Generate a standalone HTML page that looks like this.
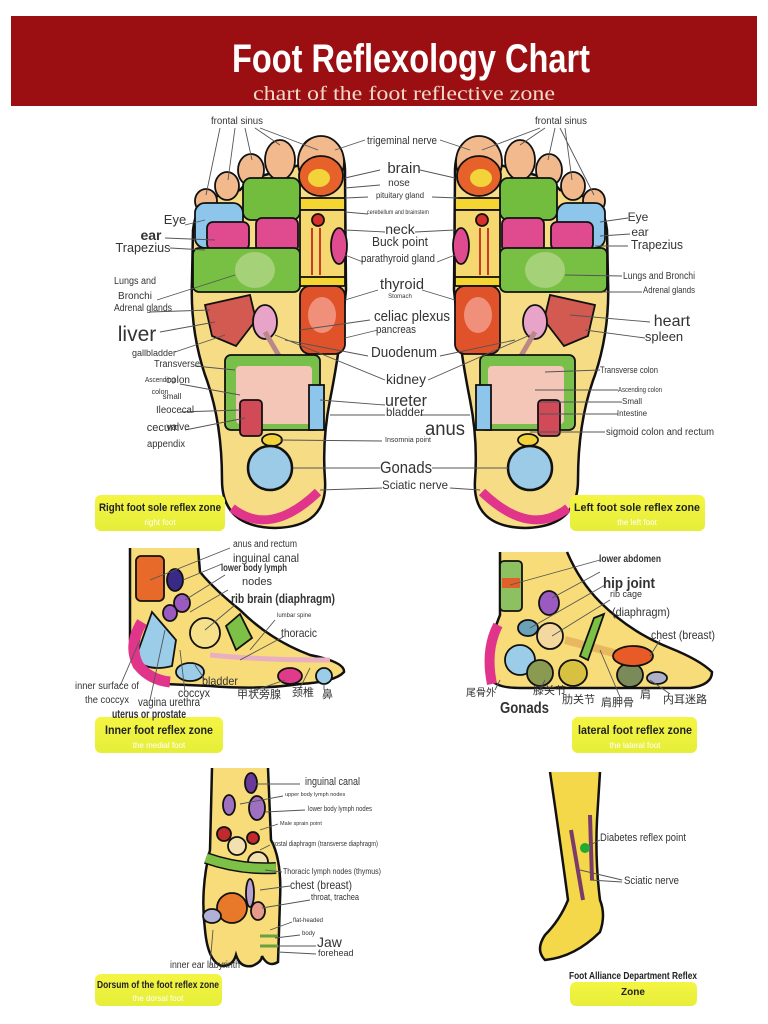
<!DOCTYPE html>
<html><head><meta charset="utf-8"><style>
html,body{margin:0;padding:0;background:#fff;}
svg{display:block;}
text{font-family:"Liberation Sans Narrow","Liberation Sans","Noto Sans CJK SC",sans-serif;fill:#333;}
.b{font-weight:bold;}
.l{stroke:#555;stroke-width:0.9;fill:none;}
.o{stroke:#111;stroke-width:2.5;}
.t{stroke:#111;stroke-width:1.8;}
</style></head><body>
<svg width="768" height="1024" viewBox="0 0 768 1024" xmlns="http://www.w3.org/2000/svg">
<defs>
<linearGradient id="yl" x1="0" y1="0" x2="0" y2="1">
<stop offset="0" stop-color="#f4f542"/><stop offset="1" stop-color="#e6ee3a"/>
</linearGradient>
<g id="sole">
<path class="o" fill="#f7dc86" d="M300,165 Q298,138 320,137 Q346,140 345,175 L346,290 Q340,350 330,400 Q322,440 325,480 Q328,527 275,528 Q222,527 222,480 Q222,420 205,375 Q190,330 192,280 L193,230 Q196,205 210,198 L240,190 Q250,178 265,175 Z"/>
<ellipse class="t" cx="280" cy="160" rx="15" ry="20" fill="#f2b98d"/>
<ellipse class="t" cx="251" cy="170" rx="13" ry="16" fill="#f2b98d"/>
<ellipse class="t" cx="227" cy="186" rx="12" ry="14" fill="#f2b98d"/>
<ellipse class="t" cx="206" cy="201" rx="11" ry="12" fill="#f2b98d"/>
<ellipse class="t" cx="321" cy="162" rx="23" ry="26" fill="#f2b98d"/>
<ellipse class="t" cx="321" cy="176" rx="22" ry="20" fill="#e6622a"/>
<ellipse cx="319" cy="178" rx="11" ry="9" fill="#f3d33a"/>
<rect class="t" x="243" y="178" width="57" height="42" rx="8" fill="#72bd3e"/>
<rect class="t" x="195" y="203" width="48" height="45" rx="10" fill="#8ec5ea"/>
<rect class="t" x="207" y="222" width="42" height="28" rx="6" fill="#e04a8e"/>
<rect class="t" x="256" y="218" width="42" height="34" rx="6" fill="#e04a8e"/>
<rect class="t" x="193" y="248" width="107" height="44" rx="6" fill="#78c043"/>
<ellipse cx="255" cy="270" rx="20" ry="18" fill="#b8d890" opacity=".7"/>
<rect class="t" x="300" y="198" width="45" height="12" fill="#f5d532"/>
<rect class="t" x="300" y="210" width="45" height="70" fill="#f6d870"/>
<circle cx="318" cy="220" r="6" fill="#d8302a" class="t"/>
<path d="M312,228 L312,275 M320,228 L320,275" stroke="#c83a2a" stroke-width="2"/>
<ellipse class="t" cx="339" cy="246" rx="8" ry="18" fill="#e04a8e"/>
<rect class="t" x="300" y="277" width="45" height="9" fill="#f5d532"/>
<rect class="t" x="300" y="286" width="45" height="68" rx="10" fill="#e0522a"/>
<ellipse cx="322" cy="315" rx="14" ry="18" fill="#f0907a"/>
<path class="t" fill="#d25a50" d="M205,305 L250,295 L256,320 L236,346 L212,336 Z"/>
<ellipse class="t" cx="265" cy="322" rx="12" ry="17" fill="#e7a3c8"/>
<path d="M265,332 L305,400" stroke="#b88" stroke-width="5"/>
<rect class="t" x="225" y="355" width="95" height="75" rx="6" fill="#79c04a"/>
<rect x="236" y="366" width="76" height="58" rx="4" fill="#f3c6b8"/>
<rect class="t" x="309" y="385" width="15" height="45" fill="#8ec5ea"/>
<rect class="t" x="240" y="400" width="22" height="36" rx="4" fill="#d04a58"/>
<ellipse class="t" cx="272" cy="440" rx="10" ry="6" fill="#f3d33a"/>
<circle class="o" cx="270" cy="468" r="22" fill="#9ccbe8"/>
<path d="M232,508 Q270,538 318,492" stroke="#e0358a" stroke-width="9" fill="none"/>
</g>
</defs>

<rect x="11" y="16" width="746" height="90" fill="#9b0f13"/>
<text x="411" y="72" text-anchor="middle" font-size="40" class="b" style="fill:#fff" textLength="358" lengthAdjust="spacingAndGlyphs">Foot Reflexology Chart</text>
<text x="404" y="100" text-anchor="middle" font-size="20" style="fill:#f2d9c8;font-family:'Liberation Serif',serif" textLength="302" lengthAdjust="spacingAndGlyphs">chart of the foot reflective zone</text>

<use href="#sole"/>
<use href="#sole" transform="translate(800,0) scale(-1,1)"/>

<g class="l">
<path d="M220,128 L206,195 M235,128 L228,180 M245,128 L252,160 M255,128 L280,145 M260,128 L318,150"/>
<path d="M560,128 L594,195 M565,128 L572,180 M555,128 L548,160 M545,128 L520,145 M540,128 L482,150"/>
<path d="M185,225 L205,220 M165,238 L215,240 M170,248 L205,250 M157,300 L235,275 M150,312 L210,310 M160,332 L215,322 M175,352 L225,335 M195,366 L235,370 M180,384 L240,395 M180,412 L240,410 M185,430 L245,418"/>
<path d="M365,140 L335,150 M440,140 L470,150 M345,178 L380,170 M420,170 L455,178 M345,188 L380,185 M345,198 L368,197 M432,197 L458,198 M345,212 L368,214 M345,230 L385,232 M415,232 L455,230 M345,255 L363,262 M437,262 L455,255 M345,300 L378,290 M422,290 L455,300 M300,330 L370,320 M345,338 L378,330 M285,340 L368,356 M440,356 L515,340 M275,335 L385,380 M428,380 L530,335 M320,400 L385,405 M330,415 L385,415 M420,415 L470,415 M280,440 L382,441 M293,468 L380,468 M432,468 L508,468 M320,490 L382,488 M450,488 L480,490"/>
<path d="M600,222 L628,218 M600,236 L630,234 M595,246 L628,246 M565,275 L622,276 M560,292 L642,292 M570,315 L650,322 M585,330 L645,338 M545,372 L600,370 M535,390 L618,390 M540,402 L622,402 M540,414 L618,414 M530,432 L605,432"/>
</g>

<g font-size="10">
<text x="237" y="124" text-anchor="middle" textLength="52" lengthAdjust="spacingAndGlyphs">frontal sinus</text>
<text x="561" y="124" text-anchor="middle" textLength="52" lengthAdjust="spacingAndGlyphs">frontal sinus</text>
<text x="175" y="224" text-anchor="middle" font-size="13">Eye</text>
<text x="151" y="240" text-anchor="middle" font-size="14" class="b">ear</text>
<text x="143" y="252" text-anchor="middle" font-size="13" textLength="55" lengthAdjust="spacingAndGlyphs">Trapezius</text>
<text x="135" y="284" text-anchor="middle" textLength="42" lengthAdjust="spacingAndGlyphs">Lungs and</text>
<text x="135" y="299" text-anchor="middle">Bronchi</text>
<text x="143" y="311" text-anchor="middle" textLength="58" lengthAdjust="spacingAndGlyphs">Adrenal glands</text>
<text x="137" y="341" text-anchor="middle" font-size="21">liver</text>
<text x="154" y="356" text-anchor="middle" font-size="9" textLength="44" lengthAdjust="spacingAndGlyphs">gallbladder</text>
<text x="177" y="367" text-anchor="middle" textLength="46" lengthAdjust="spacingAndGlyphs">Transverse</text>
<text x="178" y="383" text-anchor="middle">colon</text>
<text x="160" y="382" text-anchor="middle" font-size="7" textLength="30" lengthAdjust="spacingAndGlyphs">Ascending</text>
<text x="160" y="394" text-anchor="middle" font-size="7">colon</text>
<text x="172" y="399" text-anchor="middle" font-size="8">small</text>
<text x="175" y="413" text-anchor="middle" textLength="38" lengthAdjust="spacingAndGlyphs">Ileocecal</text>
<text x="163" y="431" text-anchor="middle" font-size="11">cecum</text>
<text x="178" y="430" text-anchor="middle">valve</text>
<text x="166" y="447" text-anchor="middle" textLength="38" lengthAdjust="spacingAndGlyphs">appendix</text>

<text x="402" y="144" text-anchor="middle" font-size="11" textLength="70" lengthAdjust="spacingAndGlyphs">trigeminal nerve</text>
<text x="404" y="173" text-anchor="middle" font-size="15">brain</text>
<text x="399" y="186" text-anchor="middle">nose</text>
<text x="400" y="198" text-anchor="middle" font-size="8" textLength="48" lengthAdjust="spacingAndGlyphs">pituitary gland</text>
<text x="398" y="214" text-anchor="middle" font-size="6" textLength="62" lengthAdjust="spacingAndGlyphs">cerebellum and brainstem</text>
<text x="400" y="234" text-anchor="middle" font-size="14">neck</text>
<text x="400" y="246" text-anchor="middle" font-size="13" textLength="56" lengthAdjust="spacingAndGlyphs">Buck point</text>
<text x="398" y="262" text-anchor="middle" font-size="11" textLength="74" lengthAdjust="spacingAndGlyphs">parathyroid gland</text>
<text x="402" y="289" text-anchor="middle" font-size="15" textLength="44" lengthAdjust="spacingAndGlyphs">thyroid</text>
<text x="400" y="298" text-anchor="middle" font-size="6">Stomach</text>
<text x="412" y="321" text-anchor="middle" font-size="15" textLength="76" lengthAdjust="spacingAndGlyphs">celiac plexus</text>
<text x="396" y="333" text-anchor="middle" font-size="11" textLength="40" lengthAdjust="spacingAndGlyphs">pancreas</text>
<text x="404" y="357" text-anchor="middle" font-size="15" textLength="66" lengthAdjust="spacingAndGlyphs">Duodenum</text>
<text x="406" y="384" text-anchor="middle" font-size="14" textLength="40" lengthAdjust="spacingAndGlyphs">kidney</text>
<text x="406" y="406" text-anchor="middle" font-size="17" textLength="42" lengthAdjust="spacingAndGlyphs">ureter</text>
<text x="405" y="416" text-anchor="middle" font-size="12" textLength="38" lengthAdjust="spacingAndGlyphs">bladder</text>
<text x="445" y="435" text-anchor="middle" font-size="19" textLength="40" lengthAdjust="spacingAndGlyphs">anus</text>
<text x="408" y="442" text-anchor="middle" font-size="7" textLength="46" lengthAdjust="spacingAndGlyphs">Insomnia point</text>
<text x="406" y="473" text-anchor="middle" font-size="17" textLength="52" lengthAdjust="spacingAndGlyphs">Gonads</text>
<text x="415" y="489" text-anchor="middle" font-size="12" textLength="66" lengthAdjust="spacingAndGlyphs">Sciatic nerve</text>

<text x="638" y="221" text-anchor="middle" font-size="12">Eye</text>
<text x="640" y="236" text-anchor="middle" font-size="12">ear</text>
<text x="657" y="249" text-anchor="middle" font-size="13" textLength="52" lengthAdjust="spacingAndGlyphs">Trapezius</text>
<text x="659" y="279" text-anchor="middle" textLength="72" lengthAdjust="spacingAndGlyphs">Lungs and Bronchi</text>
<text x="669" y="293" text-anchor="middle" font-size="9" textLength="52" lengthAdjust="spacingAndGlyphs">Adrenal glands</text>
<text x="672" y="326" text-anchor="middle" font-size="16">heart</text>
<text x="664" y="341" text-anchor="middle" font-size="13">spleen</text>
<text x="629" y="373" text-anchor="middle" font-size="9" textLength="58" lengthAdjust="spacingAndGlyphs">Transverse colon</text>
<text x="640" y="392" text-anchor="middle" font-size="7" textLength="44" lengthAdjust="spacingAndGlyphs">Ascending colon</text>
<text x="632" y="404" text-anchor="middle" font-size="8">Small</text>
<text x="632" y="416" text-anchor="middle" font-size="8">Intestine</text>
<text x="660" y="435" text-anchor="middle" textLength="108" lengthAdjust="spacingAndGlyphs">sigmoid colon and rectum</text>
</g>

<g>
<rect x="95" y="495" width="130" height="36" rx="6" fill="url(#yl)"/>
<text x="160" y="511" text-anchor="middle" font-size="11" class="b" style="fill:#222" textLength="122" lengthAdjust="spacingAndGlyphs">Right foot sole reflex zone</text>
<text x="160" y="525" text-anchor="middle" font-size="8" style="fill:#fff">right foot</text>
<rect x="570" y="495" width="135" height="36" rx="6" fill="url(#yl)"/>
<text x="637" y="511" text-anchor="middle" font-size="11" class="b" style="fill:#222" textLength="126" lengthAdjust="spacingAndGlyphs">Left foot sole reflex zone</text>
<text x="637" y="525" text-anchor="middle" font-size="8" style="fill:#fff">the left foot</text>
<rect x="95" y="717" width="128" height="36" rx="6" fill="url(#yl)"/>
<text x="159" y="734" text-anchor="middle" font-size="12" class="b" style="fill:#222" textLength="108" lengthAdjust="spacingAndGlyphs">Inner foot reflex zone</text>
<text x="159" y="748" text-anchor="middle" font-size="8" style="fill:#fff">the medial foot</text>
<rect x="572" y="717" width="125" height="36" rx="6" fill="url(#yl)"/>
<text x="635" y="734" text-anchor="middle" font-size="12" class="b" style="fill:#222" textLength="114" lengthAdjust="spacingAndGlyphs">lateral foot reflex zone</text>
<text x="635" y="748" text-anchor="middle" font-size="8" style="fill:#fff">the lateral foot</text>
<rect x="95" y="974" width="127" height="32" rx="6" fill="url(#yl)"/>
<text x="158" y="988" text-anchor="middle" font-size="10.5" class="b" style="fill:#222" textLength="122" lengthAdjust="spacingAndGlyphs">Dorsum of the foot reflex zone</text>
<text x="158" y="1001" text-anchor="middle" font-size="8" style="fill:#fff">the dorsal foot</text>
<rect x="570" y="982" width="127" height="24" rx="6" fill="url(#yl)"/>
<text x="633" y="979" text-anchor="middle" font-size="10" class="b" style="fill:#222" textLength="128" lengthAdjust="spacingAndGlyphs">Foot Alliance Department Reflex</text>
<text x="633" y="995" text-anchor="middle" font-size="10" class="b" style="fill:#222">Zone</text>
</g>

<path class="o" fill="#f8dc7a" d="M130,548 L130,640 Q135,680 165,684 L210,686 Q260,690 300,684 Q335,682 344,672 Q345,662 310,655 Q270,640 240,610 Q215,590 200,572 L198,548"/>
<rect class="t" x="136" y="556" width="28" height="45" rx="5" fill="#e86a2a"/>
<ellipse class="t" cx="175" cy="580" rx="8" ry="11" fill="#3a2a88"/>
<ellipse class="t" cx="182" cy="603" rx="8" ry="9" fill="#9a5ac0"/>
<ellipse class="t" cx="170" cy="613" rx="7" ry="8" fill="#9a5ac0"/>
<path class="t" fill="#9bcde8" d="M152,612 L135,660 Q150,672 172,666 L176,640 Z"/>
<path d="M142,622 Q128,645 138,665 Q150,680 170,682" stroke="#e0358a" stroke-width="11" fill="none"/>
<circle class="t" cx="205" cy="633" r="15" fill="#f6e08a"/>
<path class="t" fill="#7cc046" d="M226,626 L240,614 L252,638 L236,650 Z"/>
<ellipse class="t" cx="190" cy="672" rx="14" ry="9" fill="#9bcde8"/>
<ellipse class="t" cx="290" cy="676" rx="12" ry="8" fill="#e03a8a"/>
<circle class="t" cx="324" cy="676" r="8" fill="#9bcde8"/>
<path d="M210,655 Q260,660 330,660" stroke="#e8b0c0" stroke-width="5" fill="none"/>
<g class="l"><path d="M150,580 L230,548 M183,580 L222,564 M185,600 L225,575 M190,612 L228,590 M205,630 L235,605 M250,650 L275,620 M240,660 L283,637 M195,665 L205,680 M140,640 L120,686 M165,630 L150,700 M180,650 L185,692 M285,680 L250,692 M310,668 L300,688 M324,684 L324,690"/></g>
<g>
<text x="233" y="547" font-size="10" textLength="64" lengthAdjust="spacingAndGlyphs">anus and rectum</text>
<text x="233" y="562" font-size="12" textLength="66" lengthAdjust="spacingAndGlyphs">inguinal canal</text>
<text x="221" y="571" font-size="10" class="b" textLength="66" lengthAdjust="spacingAndGlyphs">lower body lymph</text>
<text x="242" y="585" font-size="11">nodes</text>
<text x="231" y="603" font-size="13" class="b" textLength="104" lengthAdjust="spacingAndGlyphs">rib brain (diaphragm)</text>
<text x="277" y="617" font-size="6">lumbar spine</text>
<text x="281" y="637" font-size="12" textLength="36" lengthAdjust="spacingAndGlyphs">thoracic</text>
<text x="202" y="685" font-size="12" textLength="36" lengthAdjust="spacingAndGlyphs">bladder</text>
<text x="75" y="689" font-size="10" textLength="64" lengthAdjust="spacingAndGlyphs">inner surface of</text>
<text x="85" y="703" font-size="10" textLength="44" lengthAdjust="spacingAndGlyphs">the coccyx</text>
<text x="178" y="697" font-size="12" textLength="32" lengthAdjust="spacingAndGlyphs">coccyx</text>
<text x="138" y="706" font-size="12" textLength="62" lengthAdjust="spacingAndGlyphs">vagina urethra</text>
<text x="112" y="718" font-size="12" class="b" textLength="74" lengthAdjust="spacingAndGlyphs">uterus or prostate</text>
<text x="237" y="698" font-size="11">甲状旁腺</text>
<text x="292" y="696" font-size="11">颈椎</text>
<text x="322" y="698" font-size="11">鼻</text>
</g>

<path class="o" fill="#f8dc7a" d="M500,552 L500,615 Q486,650 490,678 Q495,688 520,688 L690,688 Q712,685 712,672 Q700,660 670,648 Q630,632 600,602 Q580,582 567,552"/>
<rect class="t" x="500" y="561" width="22" height="50" rx="4" fill="#8cc060"/>
<rect x="502" y="578" width="18" height="10" fill="#e0602a"/>
<ellipse class="t" cx="549" cy="603" rx="10" ry="12" fill="#9a5ac0"/>
<path d="M498,625 Q485,650 492,684" stroke="#e0358a" stroke-width="10" fill="none"/>
<circle class="t" cx="520" cy="660" r="15" fill="#9bcde8"/>
<ellipse class="t" cx="528" cy="628" rx="10" ry="8" fill="#6aa0b8"/>
<circle class="t" cx="550" cy="636" r="13" fill="#f3d8a0"/>
<path d="M565,640 L640,660" stroke="#e8b860" stroke-width="8"/>
<path class="t" fill="#7cc046" d="M594,618 L604,614 L588,660 L580,656 Z"/>
<ellipse class="t" cx="540" cy="673" rx="13" ry="13" fill="#8a9a50"/>
<ellipse class="t" cx="573" cy="673" rx="14" ry="13" fill="#d8c040"/>
<ellipse class="t" cx="630" cy="675" rx="13" ry="12" fill="#7a8a58"/>
<ellipse class="t" cx="633" cy="656" rx="20" ry="10" fill="#e85a28"/>
<ellipse class="t" cx="657" cy="678" rx="10" ry="6" fill="#b0b0c8"/>
<g class="l"><path d="M510,585 L600,560 M552,598 L600,572 M530,628 L605,585 M552,636 L610,600 M650,656 L660,640 M500,680 L495,690 M545,680 L540,690 M600,650 L620,697 M650,680 L670,694"/></g>
<g>
<text x="599" y="562" font-size="10" class="b" textLength="62" lengthAdjust="spacingAndGlyphs">lower abdomen</text>
<text x="603" y="588" font-size="15" class="b" textLength="52" lengthAdjust="spacingAndGlyphs">hip joint</text>
<text x="610" y="597" font-size="9">rib cage</text>
<text x="612" y="616" font-size="12" textLength="58" lengthAdjust="spacingAndGlyphs">(diaphragm)</text>
<text x="651" y="639" font-size="12" textLength="64" lengthAdjust="spacingAndGlyphs">chest (breast)</text>
<text x="466" y="696" font-size="10">尾骨外</text>
<text x="533" y="694" font-size="11">膝关节</text>
<text x="562" y="703" font-size="11">肋关节</text>
<text x="601" y="706" font-size="11">肩胛骨</text>
<text x="640" y="698" font-size="11">肩</text>
<text x="663" y="703" font-size="11">内耳迷路</text>
<text x="500" y="713" font-size="16" class="b" textLength="49" lengthAdjust="spacingAndGlyphs">Gonads</text>
</g>

<path class="o" fill="#f8dc7a" d="M212,768 L210,850 Q200,890 205,930 Q208,962 222,966 Q233,966 236,955 Q240,968 252,966 Q262,962 262,956 Q268,968 278,962 L280,900 Q282,860 271,840 L268,768"/>
<ellipse class="t" cx="251" cy="783" rx="6" ry="10" fill="#6a3a9a"/>
<ellipse class="t" cx="229" cy="805" rx="6" ry="10" fill="#a070c0"/>
<ellipse class="t" cx="257" cy="808" rx="8" ry="12" fill="#a070c0"/>
<circle class="t" cx="224" cy="834" r="7" fill="#c02a2a"/>
<circle class="t" cx="253" cy="838" r="6" fill="#c02a2a"/>
<circle class="t" cx="237" cy="846" r="9" fill="#f3e0b0"/>
<circle class="t" cx="258" cy="862" r="10" fill="#f3e0b0"/>
<path d="M206,858 Q240,870 276,868" stroke="#111" stroke-width="12" fill="none"/>
<path d="M206,858 Q240,870 276,868" stroke="#7cc046" stroke-width="9" fill="none"/>
<ellipse class="t" cx="250" cy="893" rx="4" ry="14" fill="#b8a0d0"/>
<circle class="t" cx="232" cy="908" r="15" fill="#e8782a"/>
<ellipse class="t" cx="258" cy="911" rx="7" ry="9" fill="#e89a8a"/>
<ellipse class="t" cx="212" cy="916" rx="9" ry="7" fill="#b0b0d8"/>
<path d="M260,936 L278,936 M260,946 L278,946" stroke="#6aa040" stroke-width="3"/>
<g class="l"><path d="M256,784 L300,784 M240,804 L283,796 M265,812 L305,810 M260,830 L278,824 M260,850 L270,845 M265,870 L282,872 M260,890 L290,886 M262,908 L310,900 M270,930 L292,922 M275,938 L300,935 M278,946 L316,946 M278,952 L316,954 M213,930 L210,965"/></g>
<g>
<text x="305" y="785" font-size="11" textLength="55" lengthAdjust="spacingAndGlyphs">inguinal canal</text>
<text x="285" y="796" font-size="5.5">upper body lymph nodes</text>
<text x="308" y="811" font-size="7" textLength="64" lengthAdjust="spacingAndGlyphs">lower body lymph nodes</text>
<text x="280" y="825" font-size="5.5">Male sprain point</text>
<text x="272" y="846" font-size="7" textLength="106" lengthAdjust="spacingAndGlyphs">costal diaphragm (transverse diaphragm)</text>
<text x="283" y="874" font-size="8" textLength="98" lengthAdjust="spacingAndGlyphs">Thoracic lymph nodes (thymus)</text>
<text x="290" y="889" font-size="12" textLength="62" lengthAdjust="spacingAndGlyphs">chest (breast)</text>
<text x="311" y="900" font-size="9" textLength="48" lengthAdjust="spacingAndGlyphs">throat, trachea</text>
<text x="293" y="922" font-size="6">flat-headed</text>
<text x="302" y="935" font-size="6">body</text>
<text x="317" y="947" font-size="14">Jaw</text>
<text x="318" y="956" font-size="9">forehead</text>
<text x="170" y="968" font-size="10" textLength="70" lengthAdjust="spacingAndGlyphs">inner ear labyrinth</text>
</g>

<path class="o" fill="#f5d84a" d="M550,772 Q560,840 568,900 Q560,920 545,935 Q535,950 545,960 Q575,957 600,932 Q606,915 600,900 Q595,860 597,820 L600,772"/>
<path d="M571,830 L583,900 M590,815 L592,880" stroke="#7a3a6a" stroke-width="4"/>
<circle cx="585" cy="848" r="5" fill="#22aa33"/>
<g class="l"><path d="M590,845 L600,840 M580,870 L622,880 M590,880 L622,882"/></g>
<text x="600" y="841" font-size="11" textLength="86" lengthAdjust="spacingAndGlyphs">Diabetes reflex point</text>
<text x="624" y="884" font-size="11" textLength="55" lengthAdjust="spacingAndGlyphs">Sciatic nerve</text>
</svg>
</body></html>
